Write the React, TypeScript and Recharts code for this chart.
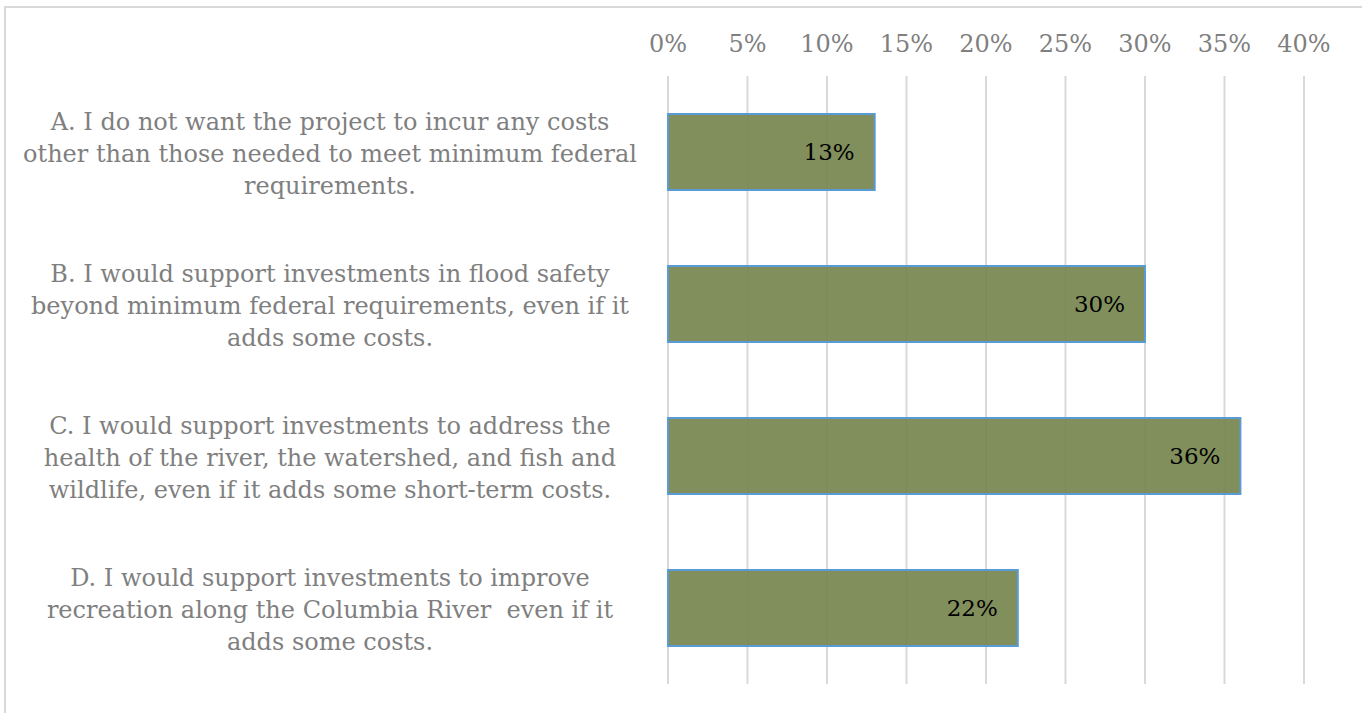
import { Bar, BarChart, CartesianGrid, LabelList, XAxis, YAxis } from 'recharts';

const categories = [
  'A. I do not want the project to incur any costs|other than those needed to meet minimum federal|requirements.',
  'B. I would support investments in flood safety|beyond minimum federal requirements, even if it|adds some costs.',
  'C. I would support investments to address the|health of the river, the watershed, and fish and|wildlife, even if it adds some short-term costs.',
  'D. I would support investments to improve|recreation along the Columbia River  even if it|adds some costs.',
];
const shares = [0.13, 0.3, 0.36, 0.22];
const xTicks = [0, 0.05, 0.1, 0.15, 0.2, 0.25, 0.3, 0.35, 0.4];

const data = categories.map((c, i) => ({ label: c, value: shares[i] }));

const FONT = "Georgia, 'DejaVu Serif', serif";
const pct = (v: number) => `${Math.round(v * 100)}%`;

function CategoryTick(props: any) {
  const { x, y, payload } = props;
  const lines: string[] = String(payload.value).split('|');
  const lineH = 32;
  const start = -((lines.length - 1) * lineH) / 2 + 2;
  return (
    <text
      x={x - 330}
      y={y}
      textAnchor="middle"
      fill="#7f7f7f"
      fontFamily={FONT}
      fontSize={24}
      style={{ whiteSpace: 'pre' }}
    >
      {lines.map((l, i) => (
        <tspan key={i} x={x - 330} y={y + start + i * lineH} dominantBaseline="central">
          {l}
        </tspan>
      ))}
    </text>
  );
}

export default function App() {
  return (
    <div style={{ position: 'absolute', left: 0, top: 0, width: 1362, height: 713, background: '#fff' }}>
      <div
        style={{
          position: 'absolute',
          left: 4,
          top: 6,
          width: 1358,
          height: 707,
          borderLeft: '2px solid #d9d9d9',
          borderTop: '2px solid #d9d9d9',
          boxSizing: 'border-box',
        }}
      />
      <div style={{ position: 'absolute', left: 0, top: 0 }}>
        <BarChart
          width={1362}
          height={713}
          data={data}
          layout="vertical"
          barCategoryGap="25%"
          margin={{ top: 0, right: 58, bottom: 29, left: 0 }}
        >
          <CartesianGrid horizontal={false} stroke="#d9d9d9" strokeWidth={2} />
          <XAxis
            type="number"
            orientation="top"
            domain={[0, 0.4]}
            ticks={xTicks}
            tickFormatter={pct}
            axisLine={false}
            tickLine={false}
            tickMargin={18}
            tick={{ fill: '#7f7f7f', fontSize: 24, fontFamily: FONT }}
            height={76}
          />
          <YAxis
            type="category"
            dataKey="label"
            width={668}
            axisLine={false}
            tickLine={false}
            tick={<CategoryTick />}
          />
          <Bar
            dataKey="value"
            fill="#76864f"
            fillOpacity={0.92}
            stroke="#5b9bd5"
            strokeWidth={2}
            isAnimationActive={false}
          >
            <LabelList
              dataKey="value"
              position="insideRight"
              offset={20}
              formatter={(v: any) => pct(Number(v))}
              fill="#000"
              fontSize={23}
              fontFamily={FONT}
            />
          </Bar>
        </BarChart>
      </div>
    </div>
  );
}
